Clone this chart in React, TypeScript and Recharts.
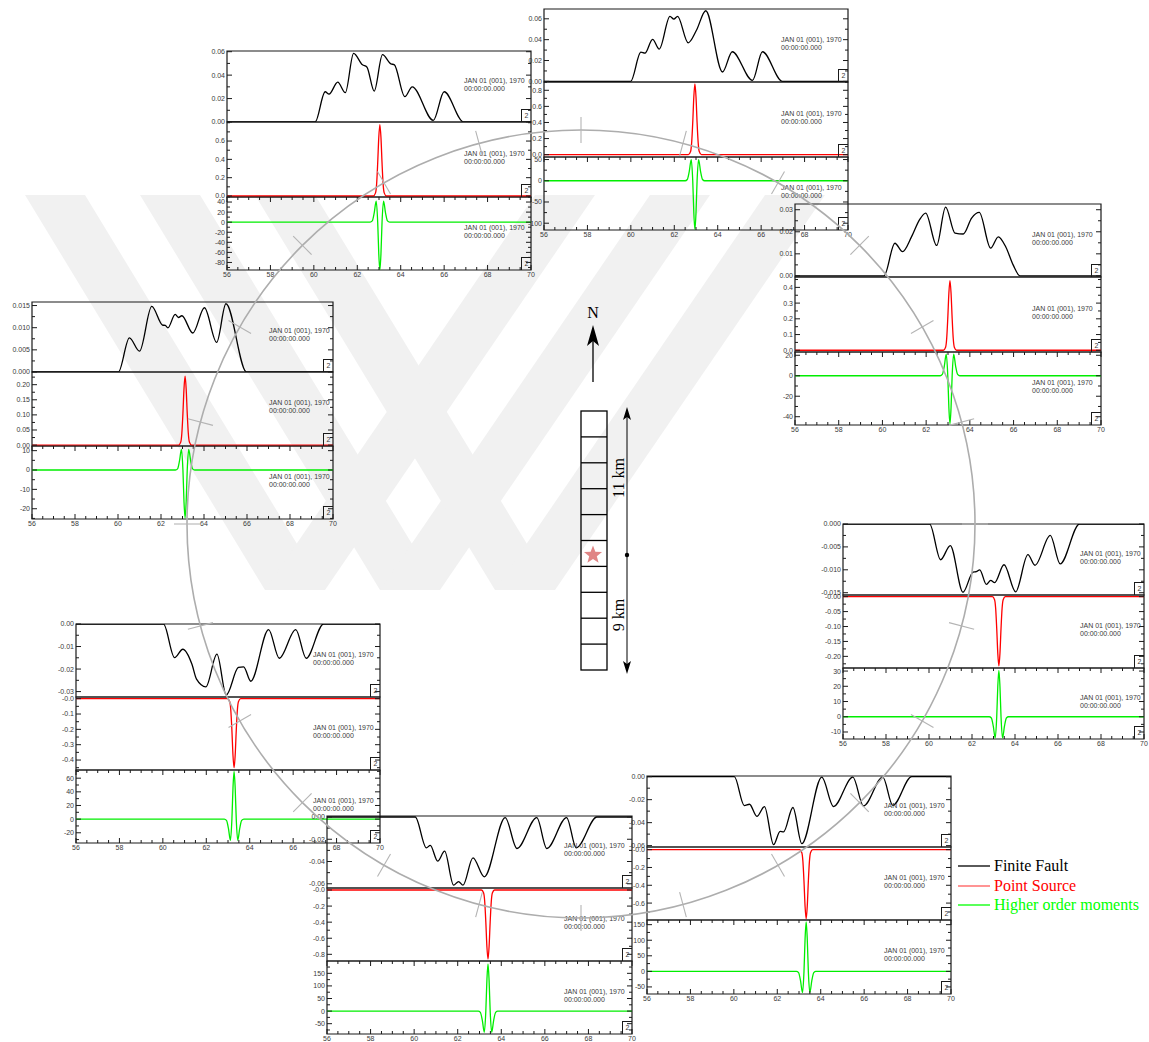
import React from 'react';
import { LineChart, Line, XAxis, YAxis, ReferenceArea } from 'recharts';

type Pt = [number, number];

// shared time axis (s)
const timeLabels = ['56', '58', '60', '62', '64', '66', '68', '70'];

// ---- station A (upper left of ring) ----
const ffA: Pt[] = [[56, 0], [60.06, 0], [60.52, 0.0258], [60.7, 0.0238], [61.1, 0.034], [61.45, 0.025], [61.83, 0.0586], [62.24, 0.0488], [62.44, 0.047], [62.78, 0.0264], [63.16, 0.0575], [63.55, 0.0496], [63.7, 0.049], [64.19, 0.0216], [64.53, 0.03], [65.5, 0.0014], [66.0, 0.0258], [66.9, 0], [70, 0]];
const psA: Pt[] = [[56, 0], [62.74, 0], [62.84, 0.034], [62.89, 0.13], [62.94, 0.36], [62.99, 0.64], [63.04, 0.78], [63.09, 0.64], [63.14, 0.36], [63.19, 0.13], [63.24, 0.034], [63.34, 0], [70, 0]];
const hmA: Pt[] = [[56, 0], [62.59, 0], [62.69, 2.5], [62.78, 18.5], [62.87, 42], [62.94, 0], [62.99, -63], [63.04, -95], [63.09, -63], [63.14, 0], [63.21, 42], [63.3, 18.5], [63.39, 2.5], [63.49, 0], [70, 0]];
const ffLabA = ['0.00', '0.02', '0.04', '0.06'];
const psLabA = ['0.0', '0.2', '0.4', '0.6'];
const hmLabA = ['40', '20', '0', '-20', '-40', '-60', '-80'];
const ffDomA = [0, 0.0606];
const psDomA = [-0.011, 0.808];
const hmDomA = [-95, 50];

// ---- station B (north) ----
const ffB: Pt[] = [[56, 0], [59.99, 0], [60.46, 0.028], [60.65, 0.027], [61.0, 0.0403], [61.31, 0.031], [61.8, 0.0623], [61.98, 0.0597], [62.15, 0.0623], [62.64, 0.037], [63.02, 0.049], [63.45, 0.0677], [64.22, 0.009], [64.67, 0.0284], [65.6, 0.001], [66.06, 0.0284], [66.98, 0], [70, 0]];
const psB: Pt[] = [[56, 0], [62.65, 0], [62.75, 0.039], [62.8, 0.15], [62.85, 0.4], [62.9, 0.72], [62.95, 0.88], [63.0, 0.72], [63.05, 0.4], [63.1, 0.15], [63.15, 0.039], [63.25, 0], [70, 0]];
const hmB: Pt[] = [[56, 0], [62.5, 0], [62.6, 3], [62.69, 22], [62.78, 50], [62.85, 0], [62.9, -76], [62.95, -115], [63.0, -76], [63.05, 0], [63.12, 50], [63.21, 22], [63.3, 3], [63.4, 0], [70, 0]];
const ffLabB = ['0.00', '0.02', '0.04', '0.06'];
const psLabB = ['0.0', '0.2', '0.4', '0.6', '0.8'];
const hmLabB = ['50', '0', '-50', '-100'];
const ffDomB = [-0.0006, 0.0694];
const psDomB = [-0.029, 0.903];
const hmDomB = [-116, 56];

// ---- station C (west) ----
const ffC: Pt[] = [[56, 0], [60.02, 0], [60.53, 0.0077], [61.0, 0.0047], [61.57, 0.0148], [62.07, 0.0106], [62.2, 0.0105], [62.32, 0.00997], [62.66, 0.013], [62.81, 0.0123], [62.97, 0.0127], [63.48, 0.0088], [64.02, 0.0145], [64.59, 0.0067], [65.02, 0.0154], [65.98, 0], [70, 0]];
const psC: Pt[] = [[56, 0], [62.82, 0], [62.92, 0.01], [62.97, 0.039], [63.02, 0.105], [63.07, 0.187], [63.12, 0.228], [63.17, 0.187], [63.22, 0.105], [63.27, 0.039], [63.32, 0.01], [63.42, 0], [70, 0]];
const hmC: Pt[] = [[56, 0], [62.67, 0], [62.77, 0.6], [62.86, 4.7], [62.95, 10.6], [63.02, 0], [63.07, -16.4], [63.12, -24.8], [63.17, -16.4], [63.22, 0], [63.29, 10.6], [63.38, 4.7], [63.47, 0.6], [63.57, 0], [70, 0]];
const ffLabC = ['0.000', '0.005', '0.010', '0.015'];
const psLabC = ['0.00', '0.05', '0.10', '0.15', '0.20'];
const hmLabC = ['10', '0', '-10', '-20'];
const ffDomC = [0, 0.0158];
const psDomC = [-0.003, 0.242];
const hmDomC = [-25.3, 12.4];

// ---- station D (north-east) ----
const ffD: Pt[] = [[56, 0], [60.07, 0], [60.57, 0.0148], [60.92, 0.011], [61.34, 0.0179], [61.7, 0.0255], [61.98, 0.0285], [62.48, 0.0138], [62.89, 0.0312], [63.32, 0.0194], [63.7, 0.019], [64.08, 0.0262], [64.43, 0.0288], [64.95, 0.0126], [65.3, 0.0177], [65.65, 0.013], [65.98, 0.005], [66.3, 0], [70, 0]];
const psD: Pt[] = [[56, 0], [62.79, 0], [62.89, 0.019], [62.94, 0.075], [62.99, 0.204], [63.04, 0.363], [63.09, 0.443], [63.14, 0.363], [63.19, 0.204], [63.24, 0.075], [63.29, 0.019], [63.39, 0], [70, 0]];
const hmD: Pt[] = [[56, 0], [62.64, 0], [62.74, 1.3], [62.83, 9.2], [62.92, 21], [62.99, 0], [63.04, -31], [63.09, -47], [63.14, -31], [63.19, 0], [63.26, 21], [63.35, 9.2], [63.44, 1.3], [63.54, 0], [70, 0]];
const ffLabD = ['0.00', '0.01', '0.02', '0.03'];
const psLabD = ['0.0', '0.1', '0.2', '0.3', '0.4'];
const hmLabD = ['20', '0', '-20', '-40'];
const ffDomD = [-0.0005, 0.0326];
const psDomD = [-0.011, 0.466];
const hmDomD = [-48.1, 23.2];

// ---- station E (east) ----
const ffE: Pt[] = [[56, 0], [60.03, 0], [60.54, -0.0078], [60.99, -0.0047], [61.58, -0.0149], [62.05, -0.0105], [62.2, -0.0104], [62.36, -0.01], [62.67, -0.0132], [62.87, -0.0123], [63.05, -0.0128], [63.49, -0.0089], [64.03, -0.0148], [64.6, -0.0067], [64.93, -0.009], [65.64, -0.0025], [66.1, -0.0087], [67.0, 0], [70, 0]];
const psE: Pt[] = [[56, 0], [62.95, 0], [63.05, -0.01], [63.1, -0.039], [63.15, -0.107], [63.2, -0.19], [63.25, -0.232], [63.3, -0.19], [63.35, -0.107], [63.4, -0.039], [63.45, -0.01], [63.55, 0], [70, 0]];
const hmE: Pt[] = [[56, 0], [62.8, 0], [62.9, -0.8], [62.99, -6.2], [63.08, -14], [63.15, 0], [63.2, 20], [63.25, 30.5], [63.3, 20], [63.35, 0], [63.42, -14], [63.51, -6.2], [63.6, -0.8], [63.7, 0], [70, 0]];
const ffLabE = ['0.000', '-0.005', '-0.010', '-0.015'];
const psLabE = ['-0.00', '-0.05', '-0.10', '-0.15', '-0.20'];
const hmLabE = ['30', '20', '10', '0', '-10'];
const ffDomE = [-0.0155, 0];
const psDomE = [-0.239, 0.0056];
const hmDomE = [-14.6, 32];

// ---- station F (south-west) ----
const ffF: Pt[] = [[56, 0], [60.03, 0], [60.54, -0.0149], [60.92, -0.0112], [61.34, -0.0179], [61.55, -0.0245], [61.98, -0.0279], [62.49, -0.0134], [62.92, -0.0315], [63.48, -0.0193], [63.72, -0.019], [64.05, -0.0254], [64.87, -0.0025], [65.36, -0.0152], [66.12, -0.0025], [66.6, -0.0152], [67.4, 0], [70, 0]];
const psF: Pt[] = [[56, 0], [62.98, 0], [63.08, -0.02], [63.13, -0.077], [63.18, -0.207], [63.23, -0.37], [63.28, -0.45], [63.33, -0.37], [63.38, -0.207], [63.43, -0.077], [63.48, -0.02], [63.58, 0], [70, 0]];
const hmF: Pt[] = [[56, 0], [62.83, 0], [62.93, -1.9], [63.02, -13.6], [63.11, -31], [63.18, 0], [63.23, 46], [63.28, 70], [63.33, 46], [63.38, 0], [63.45, -31], [63.54, -13.6], [63.63, -1.9], [63.73, 0], [70, 0]];
const ffLabF = ['0.00', '-0.01', '-0.02', '-0.03'];
const psLabF = ['-0.0', '-0.1', '-0.2', '-0.3', '-0.4'];
const hmLabF = ['60', '40', '20', '0', '-20'];
const ffDomF = [-0.0324, 0];
const psDomF = [-0.465, 0.011];
const hmDomF = [-35, 72];

// ---- station G (south) ----
const ffG: Pt[] = [[56, 0], [60.05, 0], [60.56, -0.0277], [60.74, -0.0255], [61.08, -0.0397], [61.4, -0.0307], [61.81, -0.0613], [62.04, -0.058], [62.24, -0.0613], [62.7, -0.0367], [63.22, -0.0538], [64.18, -0.0005], [64.72, -0.0283], [65.63, -0.0005], [66.09, -0.0283], [67.0, -0.0005], [67.44, -0.0277], [68.39, 0], [70, 0]];
const psG: Pt[] = [[56, 0], [63.09, 0], [63.19, -0.038], [63.24, -0.146], [63.29, -0.396], [63.34, -0.705], [63.39, -0.86], [63.44, -0.705], [63.49, -0.396], [63.54, -0.146], [63.59, -0.038], [63.69, 0], [70, 0]];
const hmG: Pt[] = [[56, 0], [62.94, 0], [63.04, -5], [63.13, -37], [63.22, -84], [63.29, 0], [63.34, 123], [63.39, 187], [63.44, 123], [63.49, 0], [63.56, -84], [63.65, -37], [63.74, -5], [63.84, 0], [70, 0]];
const ffLabG = ['0.00', '-0.02', '-0.04', '-0.06'];
const psLabG = ['-0.0', '-0.2', '-0.4', '-0.6', '-0.8'];
const hmLabG = ['150', '100', '50', '0', '-50'];
const ffDomG = [-0.0638, 0.0009];
const psDomG = [-0.883, 0.025];
const hmDomG = [-91, 199];

// ---- station H (south-east) ----
const ffH: Pt[] = [[56, 0], [60.02, 0], [60.48, -0.0251], [60.72, -0.024], [61.06, -0.0346], [61.41, -0.026], [61.83, -0.0592], [62.13, -0.0476], [62.29, -0.048], [62.72, -0.0268], [63.13, -0.0583], [64.05, -0.0004], [64.59, -0.026], [65.48, -0.0004], [65.97, -0.0255], [66.86, -0.0004], [67.32, -0.025], [68.19, 0], [70, 0]];
const psH: Pt[] = [[56, 0], [63.03, 0], [63.13, -0.034], [63.18, -0.132], [63.23, -0.357], [63.28, -0.637], [63.33, -0.777], [63.38, -0.637], [63.43, -0.357], [63.48, -0.132], [63.53, -0.034], [63.63, 0], [70, 0]];
const hmH: Pt[] = [[56, 0], [62.88, 0], [62.98, -4], [63.07, -30], [63.16, -68], [63.23, 0], [63.28, 105], [63.33, 159], [63.38, 105], [63.43, 0], [63.5, -68], [63.59, -30], [63.68, -4], [63.78, 0], [70, 0]];
const ffLabH = ['0.00', '-0.02', '-0.04', '-0.06'];
const psLabH = ['-0.0', '-0.2', '-0.4', '-0.6'];
const hmLabH = ['150', '100', '50', '0', '-50'];
const ffDomH = [-0.0612, 0.0006];
const psDomH = [-0.79, 0.03];
const hmDomH = [-72.7, 165];

const legendNames = ['Finite Fault', 'Point Source', 'Higher order moments'];

const BLACK = '#000000';
const RED = '#ff0000';
const GREEN = '#00ee00';
const AX = '#1a1a1a';
const LBL = '#3a3a3a';
const SANS = '"Liberation Sans", Arial, Helvetica, sans-serif';
const SERIF = '"Liberation Serif", "Times New Roman", Times, serif';
const YW = 36;

const xMajor = timeLabels.map(Number);
const xAll: number[] = [];
xMajor.forEach((m, i) => {
  xAll.push(m);
  if (i < xMajor.length - 1) xAll.push(m + 0.5, m + 1, m + 1.5);
});

type TraceDef = { pts: Pt[]; color: string; dom: number[]; labels: string[] };

function Trace({ pts, color, dom, labels, w, h, last }: TraceDef & { w: number; h: number; last: boolean }) {
  const data = pts.map(([t, v]) => ({ t, v }));
  const major = labels.map((l) => parseFloat(l));
  const step = Math.abs(major[1] - major[0]);
  const lo = Math.min(...major);
  const hi = Math.max(...major);
  const eps = step * 1e-3;
  const yTicks: number[] = [];
  for (let m = lo - step; m <= hi + step + eps; m += step / 2) {
    if (m >= dom[0] - eps && m <= dom[1] + eps) yTicks.push(+m.toFixed(6));
  }
  const XH = last ? 14 : 0;

  const yTick = (p: any) => {
    const v = p.payload.value;
    const i = major.findIndex((m) => Math.abs(m - v) < eps);
    const len = i >= 0 ? 5 : 3;
    return (
      <g>
        <line x1={p.x} x2={p.x + len} y1={p.y} y2={p.y} stroke={AX} strokeWidth={1} />
        <line x1={p.x + w} x2={p.x + w - len} y1={p.y} y2={p.y} stroke={AX} strokeWidth={1} />
        {i >= 0 && (
          <text x={p.x - 2} y={p.y} dy="0.35em" textAnchor="end" fontSize={7} fontFamily={SANS} fill={LBL}>
            {labels[i]}
          </text>
        )}
      </g>
    );
  };

  const xTick = (p: any) => {
    const v = p.payload.value;
    const i = xMajor.findIndex((m) => Math.abs(m - v) < 1e-6);
    const len = i >= 0 ? 5 : 3;
    return (
      <g>
        <line x1={p.x} x2={p.x} y1={p.y} y2={p.y - len} stroke={AX} strokeWidth={1} />
        <line x1={p.x} x2={p.x} y1={p.y - h} y2={p.y - h + len} stroke={AX} strokeWidth={1} />
        {last && i >= 0 && (
          <text x={p.x} y={p.y + 2} dy="0.75em" textAnchor="middle" fontSize={7} fontFamily={SANS} fill={LBL}>
            {timeLabels[i]}
          </text>
        )}
      </g>
    );
  };

  return (
    <LineChart width={YW + w + 2} height={h + XH} data={data} margin={{ top: 0, right: 2, bottom: 0, left: 0 }}>
      <XAxis dataKey="t" type="number" domain={[56, 70]} ticks={xAll} interval={0} tick={xTick} tickLine={false} axisLine={false} tickSize={0} tickMargin={0} height={XH} allowDataOverflow />
      <YAxis type="number" domain={dom} ticks={yTicks} interval={0} tick={yTick} tickLine={false} axisLine={false} tickSize={0} tickMargin={0} width={YW} allowDataOverflow />
      <ReferenceArea x1={56} x2={70} y1={dom[0]} y2={dom[1]} fill="none" fillOpacity={0} stroke={AX} strokeWidth={1.2} ifOverflow="visible" />
      <Line type="monotone" dataKey="v" stroke={color} strokeWidth={1.3} dot={false} isAnimationActive={false} />
    </LineChart>
  );
}

function Panel({ x, ys, w, traces }: { x: number; ys: number[]; w: number; traces: TraceDef[] }) {
  return (
    <div style={{ position: 'absolute', left: x - YW, top: ys[0], width: YW + w + 4, height: ys[3] - ys[0] + 16 }}>
      {traces.map((tr, i) => {
        const top = ys[i] - ys[0];
        const h = ys[i + 1] - ys[i];
        return (
          <React.Fragment key={i}>
            <div style={{ position: 'absolute', left: 0, top }}>
              <Trace {...tr} w={w} h={h} last={i === 2} />
            </div>
            <div style={{ position: 'absolute', left: YW + 237, top: top + h * 0.42 - 4, fontSize: 7, lineHeight: '8px', fontFamily: SANS, color: LBL, whiteSpace: 'nowrap' }}>
              JAN 01 (001), 1970
              <br />
              00:00:00.000
            </div>
            <div style={{ position: 'absolute', left: YW + w - 10, top: top + h - 13, width: 10, height: 13, borderLeft: `1px solid ${AX}`, borderTop: `1px solid ${AX}`, boxSizing: 'border-box', fontSize: 7, fontFamily: SANS, lineHeight: '12px', textAlign: 'center', color: LBL }}>
              2
            </div>
          </React.Fragment>
        );
      })}
    </div>
  );
}

function trio(ff: Pt[], ps: Pt[], hm: Pt[], fl: string[], pl: string[], hl: string[], fd: number[], pd: number[], hd: number[]): TraceDef[] {
  return [
    { pts: ff, color: BLACK, dom: fd, labels: fl },
    { pts: ps, color: RED, dom: pd, labels: pl },
    { pts: hm, color: GREEN, dom: hd, labels: hl },
  ];
}

function Watermark() {
  const c = '#f1f1f1';
  const offs = [0, 115, 230];
  return (
    <svg width={1149} height={1042} style={{ position: 'absolute', left: 0, top: 0 }}>
      {offs.map((o) => (
        <g key={o} fill={c}>
          <polygon points={`${25 + o},195 ${85 + o},195 ${325 + o},590 ${265 + o},590`} />
          <polygon points={`${265 + o},590 ${325 + o},590 ${595 + o},195 ${535 + o},195`} />
        </g>
      ))}
    </svg>
  );
}

function Overlay() {
  const cx = 581;
  const cy = 524;
  const r = 394;
  const az = Array.from({ length: 24 }, (_, i) => i * 15);
  const star = Array.from({ length: 10 }, (_, i) => {
    const rr = i % 2 === 0 ? 9.5 : 4;
    const a = (Math.PI / 5) * i - Math.PI / 2;
    return `${593 + rr * Math.cos(a)},${555 + rr * Math.sin(a)}`;
  }).join(' ');
  const cells = Array.from({ length: 11 }, (_, i) => 411 + i * 25.9);
  return (
    <svg width={1149} height={1042} style={{ position: 'absolute', left: 0, top: 0, pointerEvents: 'none' }}>
      <circle cx={cx} cy={cy} r={r} fill="none" stroke="#adadad" strokeWidth={1.6} />
      {az.map((a) => {
        const s = Math.sin((a * Math.PI) / 180);
        const co = -Math.cos((a * Math.PI) / 180);
        return <line key={a} x1={cx + (r - 13) * s} y1={cy + (r - 13) * co} x2={cx + (r + 13) * s} y2={cy + (r + 13) * co} stroke="#b4b4b4" strokeWidth={1.1} />;
      })}
      {/* north arrow */}
      <text x={593} y={318} textAnchor="middle" fontFamily={SERIF} fontSize={16} fill="#000">N</text>
      <line x1={593} y1={382} x2={593} y2={340} stroke="#000" strokeWidth={1.3} />
      <polygon points="593,325 599,346 593,341 587,346" fill="#000" />
      {/* fault column */}
      <polygon points={star} fill="#e08585" />
      <rect x={581} y={411} width={26} height={259} fill="none" stroke="#000" strokeWidth={1.3} />
      {cells.slice(1, 10).map((y) => (
        <line key={y} x1={581} x2={607} y1={y} y2={y} stroke="#000" strokeWidth={1.3} />
      ))}
      {/* length scale */}
      <line x1={627} y1={414} x2={627} y2={667} stroke="#000" strokeWidth={1} />
      <polygon points="627,407 631,420 627,417 623,420" fill="#000" />
      <polygon points="627,674 631,661 627,664 623,661" fill="#000" />
      <circle cx={627} cy={555} r={2.2} fill="#000" />
      <text transform="translate(618,478) rotate(-90)" textAnchor="middle" dominantBaseline="central" fontFamily={SERIF} fontSize={16} fill="#000">11 km</text>
      <text transform="translate(618,615) rotate(-90)" textAnchor="middle" dominantBaseline="central" fontFamily={SERIF} fontSize={16} fill="#000">9 km</text>
      {/* legend */}
      {legendNames.map((n, i) => {
        const col = [BLACK, RED, '#00ff00'][i];
        const y = [866, 886, 905][i];
        return (
          <g key={n}>
            <line x1={958} x2={990} y1={y} y2={y} stroke={i === 1 ? '#ff5a5a' : col} strokeWidth={1.3} />
            <text x={994} y={y} dy="0.33em" fontFamily={SERIF} fontSize={16} fill={col}>{n}</text>
          </g>
        );
      })}
    </svg>
  );
}

export default function App() {
  return (
    <div style={{ position: 'absolute', left: 0, top: 0, width: 1149, height: 1042, background: '#fff', overflow: 'hidden' }}>
      <style>{`.recharts-surface{overflow:visible}`}</style>
      <Watermark />
      <Panel x={227} ys={[51, 122, 197, 270]} w={304} traces={trio(ffA, psA, hmA, ffLabA, psLabA, hmLabA, ffDomA, psDomA, hmDomA)} />
      <Panel x={795} ys={[204, 277, 352, 425]} w={306} traces={trio(ffD, psD, hmD, ffLabD, psLabD, hmLabD, ffDomD, psDomD, hmDomD)} />
      <Panel x={544} ys={[9, 82, 157, 230]} w={304} traces={trio(ffB, psB, hmB, ffLabB, psLabB, hmLabB, ffDomB, psDomB, hmDomB)} />
      <Panel x={32} ys={[302, 372, 446, 519]} w={301} traces={trio(ffC, psC, hmC, ffLabC, psLabC, hmLabC, ffDomC, psDomC, hmDomC)} />
      <Panel x={843} ys={[524, 595, 668, 739]} w={301} traces={trio(ffE, psE, hmE, ffLabE, psLabE, hmLabE, ffDomE, psDomE, hmDomE)} />
      <Panel x={76} ys={[624, 697, 770, 843]} w={304} traces={trio(ffF, psF, hmF, ffLabF, psLabF, hmLabF, ffDomF, psDomF, hmDomF)} />
      <Panel x={647} ys={[776, 847, 920, 994]} w={304} traces={trio(ffH, psH, hmH, ffLabH, psLabH, hmLabH, ffDomH, psDomH, hmDomH)} />
      <Panel x={327} ys={[816, 888, 961, 1034]} w={305} traces={trio(ffG, psG, hmG, ffLabG, psLabG, hmLabG, ffDomG, psDomG, hmDomG)} />
      <Overlay />
    </div>
  );
}
